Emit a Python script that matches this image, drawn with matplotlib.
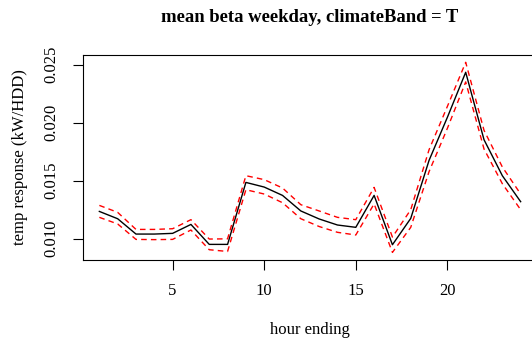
import matplotlib
matplotlib.use("Agg")
import matplotlib.pyplot as plt
import numpy as np

hours = list(range(1, 25))
mean_beta = [0.01235, 0.01172, 0.0104, 0.0104, 0.01046, 0.01123, 0.00951, 0.00951,
             0.01485, 0.01445, 0.01373, 0.01239, 0.0117, 0.01118, 0.01098, 0.01373,
             0.00948, 0.01175, 0.01675, 0.02046, 0.02434, 0.01853, 0.01543, 0.01319]
upper_ci = [0.01287, 0.01227, 0.0108, 0.0108, 0.01086, 0.01164, 0.00997, 0.00999,
            0.01543, 0.01509, 0.01437, 0.01293, 0.01239, 0.01184, 0.01164, 0.01442,
            0.01014, 0.0125, 0.01767, 0.0214, 0.0252, 0.01934, 0.01618, 0.01385]
lower_ci = [0.01184, 0.01127, 0.00994, 0.00992, 0.00994, 0.01075, 0.00905, 0.0089,
            0.01422, 0.01385, 0.0131, 0.01172, 0.01105, 0.01055, 0.01032, 0.013,
            0.00882, 0.01098, 0.01578, 0.01951, 0.02351, 0.01773, 0.01474, 0.0125]
xticks = [5, 10, 15, 20]
yticks = [0.010, 0.015, 0.020, 0.025]

plt.rcParams['font.family'] = ['Liberation Serif', 'DejaVu Serif']

W, H = 532, 339
fig = plt.figure(figsize=(W / 100, H / 100), dpi=100)
left, right, top, bottom = 82.5, 537.5, 54.7, 260.0
ax = fig.add_axes([left / W, (H - bottom) / H, (right - left) / W, (bottom - top) / H])

ax.plot(hours, mean_beta, color='black', lw=1.0)
ax.plot(hours, upper_ci, color='red', lw=1.0, ls=(0, (4, 3)))
ax.plot(hours, lower_ci, color='red', lw=1.0, ls=(0, (4, 3)))

ymin = min(lower_ci); ymax = max(upper_ci); d = ymax - ymin
ax.set_ylim(ymin - 0.04 * d, ymax + 0.04 * d)
ax.set_xlim(1 - 0.04 * 23, 24 + 0.04 * 23)
ax.set_xticks(xticks)
ax.set_xticklabels([str(t) for t in xticks], fontsize=12)
ax.set_yticks(yticks)
ax.set_yticklabels(['%.3f' % t for t in yticks], fontsize=12, rotation=90, va='center')
ax.tick_params(direction='out', length=7, width=0.8, pad=9.5)
for s in ax.spines.values():
    s.set_linewidth(0.8)

fig.text((left + right) / 2 / W, 1 - 17 / H, 'mean beta weekday, climateBand = T',
         ha='center', va='center', fontsize=13.4, fontweight='bold')
fig.text((left + right) / 2 / W, 1 - 329.5 / H, 'hour ending', ha='center', va='center', fontsize=12)
fig.text(20 / W, 1 - 157 / H, 'temp response (kW/HDD)', ha='center', va='center',
         rotation=90, fontsize=12)

fig.savefig('out.png', dpi=100)
